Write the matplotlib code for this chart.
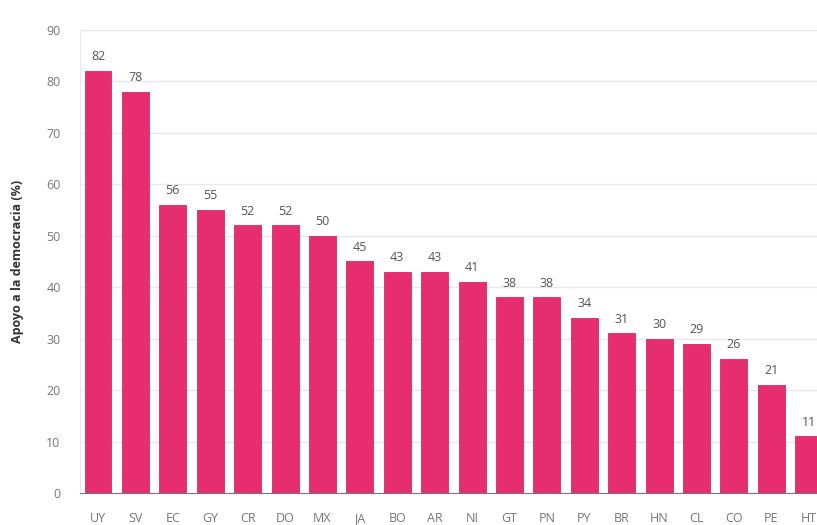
import matplotlib
matplotlib.use('Agg')
import matplotlib.pyplot as plt

plt.rcParams['font.family'] = ['Open Sans', 'DejaVu Sans']

paises = ['UY', 'SV', 'EC', 'GY', 'CR', 'DO', 'MX', 'JA', 'BO', 'AR',
          'NI', 'GT', 'PN', 'PY', 'BR', 'HN', 'CL', 'CO', 'PE', 'HT']
apoyo = [82, 78, 56, 55, 52, 52, 50, 45, 43, 43,
         41, 38, 38, 34, 31, 30, 29, 26, 21, 11]
yticks = [0, 10, 20, 30, 40, 50, 60, 70, 80, 90]

fig = plt.figure(figsize=(8.17, 5.25), dpi=100)
ax = fig.add_axes([0.098, 0.061, 0.902, 0.882])

x = range(len(paises))
ax.bar(x, apoyo, width=0.72, color='#e62e6e', edgecolor='#d8286a', linewidth=0.6, zorder=3)

for i, v in enumerate(apoyo):
    ax.text(i, v + 1.5, str(v), ha='center', va='bottom', fontsize=9, color='#555555')

ax.set_ylim(0, 90)
ax.set_xlim(-0.48, 19.22)
ax.set_yticks(yticks)
ax.set_xticks(list(x))
ax.set_xticklabels(paises)
ax.tick_params(axis='both', length=0, colors='#777777', labelsize=9)
ax.tick_params(axis='y', pad=14)
ax.tick_params(axis='x', pad=14)
ax.grid(axis='y', color='#e8e8e8', linewidth=1, zorder=0)
ax.set_ylabel('Apoyo a la democracia (%)', fontsize=9, fontweight='bold', color='#333333', labelpad=16)

for s in ['top', 'right']:
    ax.spines[s].set_visible(False)
ax.spines['left'].set_color('#e8e8e8')
ax.spines['bottom'].set_color('#777777')

fig.savefig('out.png', dpi=100)
